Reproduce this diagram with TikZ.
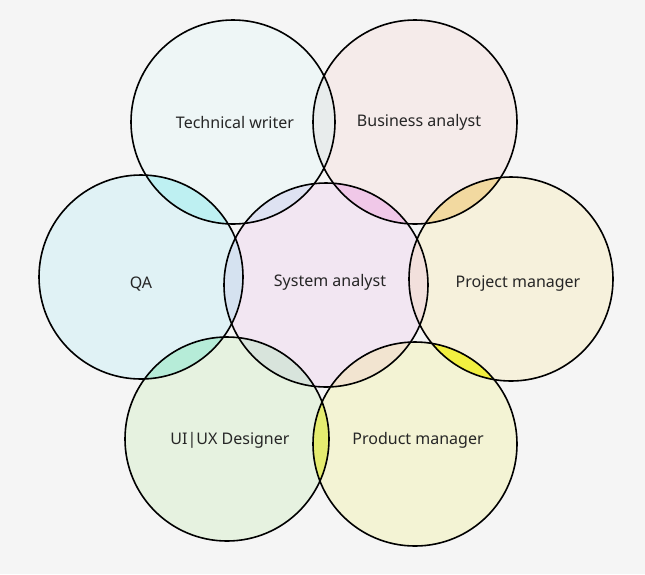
\documentclass[tikz,border=0pt]{standalone}
\usepackage{fontspec}
\setmainfont{Noto Sans}
\begin{document}
\begin{tikzpicture}[x=1pt,y=-1pt,
  circ/.style={draw=black,line width=1.6pt,circle,minimum size=204pt},
  lbl/.style={font=\fontsize{16}{19}\selectfont,text=black!85}]
\fill[gray!8] (0,0) rectangle (645,574);
\useasboundingbox (0,0) rectangle (645,574);
\def\R{102}
\coordinate (tw) at (233,122);
\coordinate (ba) at (415,122);
\coordinate (qa) at (141,277);
\coordinate (sa) at (326,285);
\coordinate (pm) at (511,279);
\coordinate (ux) at (227,439);
\coordinate (pr) at (415,444);
% base fills
\fill[fill={rgb,255:red,238;green,246;blue,246}] (tw) circle (\R);
\fill[fill={rgb,255:red,245;green,235;blue,234}] (ba) circle (\R);
\fill[fill={rgb,255:red,224;green,242;blue,245}] (qa) circle (\R);
\fill[fill={rgb,255:red,246;green,241;blue,220}] (pm) circle (\R);
\fill[fill={rgb,255:red,230;green,242;blue,224}] (ux) circle (\R);
\fill[fill={rgb,255:red,243;green,243;blue,212}] (pr) circle (\R);
\fill[fill={rgb,255:red,242;green,230;blue,242}] (sa) circle (\R);
% intersections
\newcommand\inter[3]{\begin{scope}\clip (#1) circle (\R);\fill[fill={rgb,255:#3}] (#2) circle (\R);\end{scope}}
\inter{tw}{ba}{red,232;green,236;blue,236}
\inter{tw}{qa}{red,190;green,240;blue,242}
\inter{tw}{sa}{red,222;green,226;blue,242}
\inter{ba}{sa}{red,240;green,200;blue,232}
\inter{ba}{pm}{red,242;green,217;blue,160}
\inter{qa}{sa}{red,213;green,226;blue,240}
\inter{qa}{ux}{red,182;green,236;blue,216}
\inter{sa}{pm}{red,242;green,224;blue,220}
\inter{sa}{ux}{red,216;green,228;blue,220}
\inter{sa}{pr}{red,242;green,228;blue,208}
\inter{pm}{pr}{red,242;green,240;blue,64}
\inter{ux}{pr}{red,229;green,236;blue,112}
% outlines
\node[circ] (ntw) at (tw) {};
\node[circ] (nba) at (ba) {};
\node[circ] (nqa) at (qa) {};
\node[circ] (nsa) at (sa) {};
\node[circ] (npm) at (pm) {};
\node[circ] (nux) at (ux) {};
\node[circ] (npr) at (pr) {};
% labels
\node[lbl] (ltw) at (235,122) {Technical writer};
\node[lbl] (lba) at (419,122) {Business analyst};
\node[lbl] (lqa) at (141,284) {QA};
\node[lbl] (lsa) at (330,282) {System analyst};
\node[lbl] (lpm) at (518,284) {Project manager};
\node[lbl] (lux) at (230,440) {UI|UX Designer};
\node[lbl] (lpr) at (418,440) {Product manager};
\end{tikzpicture}
\end{document}
